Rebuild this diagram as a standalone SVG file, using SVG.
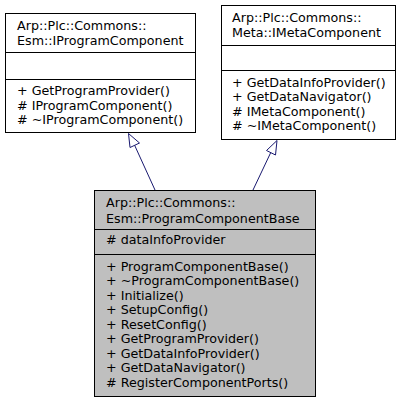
<svg xmlns="http://www.w3.org/2000/svg" width="402" height="404" viewBox="0 0 402 404">
<style>
.box{fill:#ffffff;stroke:#000000;stroke-width:1}
.focus{fill:#bfbfbf;stroke:#000000;stroke-width:1}
.sep{stroke:#000000;stroke-width:1}
text{font-family:"DejaVu Sans","Liberation Sans",sans-serif;font-size:12.7px;fill:#000000}
.edge{stroke:#191970;stroke-width:1;fill:none}
.head{stroke:#191970;stroke-width:1;fill:#ffffff}
</style>
<rect width="402" height="404" fill="#ffffff"/>
<g id="node-IProgramComponent">
<rect class="box" x="5.5" y="13.5" width="190" height="119"/>
<line class="sep" x1="5.5" y1="52.5" x2="195.5" y2="52.5"/>
<line class="sep" x1="5.5" y1="79.5" x2="195.5" y2="79.5"/>
<text x="17" y="29.8">Arp::Plc::Commons::</text>
<text x="17" y="45.1">Esm::IProgramComponent</text>
<text x="17" y="95.3">+ GetProgramProvider()</text>
<text x="17" y="109.8">&#35; IProgramComponent()</text>
<text x="17" y="124.3">&#35; ~IProgramComponent()</text>
</g>
<g id="node-IMetaComponent">
<rect class="box" x="221.5" y="5.5" width="174" height="134"/>
<line class="sep" x1="221.5" y1="45.5" x2="395.5" y2="45.5"/>
<line class="sep" x1="221.5" y1="70.5" x2="395.5" y2="70.5"/>
<text x="232" y="21.8">Arp::Plc::Commons::</text>
<text x="232" y="37.1">Meta::IMetaComponent</text>
<text x="232" y="86.5">+ GetDataInfoProvider()</text>
<text x="232" y="101">+ GetDataNavigator()</text>
<text x="232" y="115.5">&#35; IMetaComponent()</text>
<text x="232" y="130">&#35; ~IMetaComponent()</text>
</g>
<g id="node-ProgramComponentBase">
<rect class="focus" x="94.5" y="190.5" width="221" height="206"/>
<line class="sep" x1="94.5" y1="229.5" x2="315.5" y2="229.5"/>
<line class="sep" x1="94.5" y1="254.5" x2="315.5" y2="254.5"/>
<text x="106" y="207.3">Arp::Plc::Commons::</text>
<text x="106" y="222.6">Esm::ProgramComponentBase</text>
<text x="106" y="243.7">&#35; dataInfoProvider</text>
<text x="106" y="270.7">+ ProgramComponentBase()</text>
<text x="106" y="285.2">+ ~ProgramComponentBase()</text>
<text x="106" y="299.7">+ Initialize()</text>
<text x="106" y="314.2">+ SetupConfig()</text>
<text x="106" y="328.7">+ ResetConfig()</text>
<text x="106" y="343.2">+ GetProgramProvider()</text>
<text x="106" y="357.7">+ GetDataInfoProvider()</text>
<text x="106" y="372.2">+ GetDataNavigator()</text>
<text x="106" y="386.7">&#35; RegisterComponentPorts()</text>
</g>
<g id="connectors">
<line class="edge" x1="155" y1="190" x2="134.5" y2="145"/>
<polygon class="head" points="128.5,133.5 130,147.5 139.5,143"/>
<line class="edge" x1="253" y1="190" x2="271" y2="152"/>
<polygon class="head" points="277,140.5 266.5,150.5 275.5,155"/>
</g>
</svg>
